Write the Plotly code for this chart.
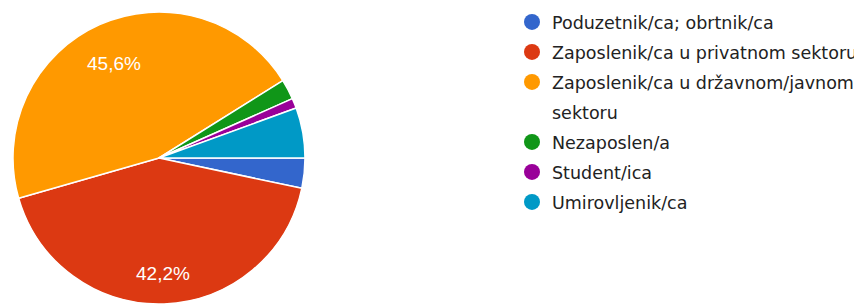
import math
import plotly.graph_objects as go

categories = [
    "Poduzetnik/ca; obrtnik/ca",
    "Zaposlenik/ca u privatnom sektoru",
    "Zaposlenik/ca u državnom/javnom<br>sektoru",
    "Nezaposlen/a",
    "Student/ica",
    "Umirovljenik/ca",
]
counts = [3, 38, 41, 2, 1, 5]
colors = ["#3366CC", "#DC3912", "#FF9900", "#109618", "#990099", "#0099C6"]

total = sum(counts)

# page body has an 8px margin; the figure is sized to fit the window
OFF = 8
W, H = 862 - OFF, 304 - OFF
cx, cy, r = 159 - OFF, 158 - OFF, 146
start_angle = 90  # clockwise from 12 o'clock

fig = go.Figure()
fig.add_trace(go.Pie(
    labels=categories,
    values=counts,
    sort=False,
    direction="clockwise",
    rotation=start_angle,
    marker=dict(colors=colors, line=dict(color="white", width=1.5)),
    textinfo="none",
    showlegend=False,
    hoverinfo="label+percent",
    domain=dict(x=[(cx - r) / W, (cx + r) / W],
                y=[(H - cy - r) / H, (H - cy + r) / H]),
))

# percentage labels for the large slices, placed at ~3/4 radius
acc = 0.0
for c in counts:
    frac = c / total
    mid = math.radians(start_angle + 360 * (acc + frac / 2))
    acc += frac
    if frac > 0.1:
        px = cx + 0.75 * r * math.sin(mid)
        py = cy - 0.75 * r * math.cos(mid)
        txt = f"{frac * 100:.1f}%".replace(".", ",")
        fig.add_annotation(
            x=px / W, y=1 - py / H, xref="paper", yref="paper",
            text=txt, showarrow=False, xanchor="center", yanchor="middle",
            yshift=-6,
            font=dict(color="white", size=19, family="Arial, Liberation Sans"),
        )

# legend entries (circle markers); continuation lines get their own row
gi = 0
for name, col in zip(categories, colors):
    lines = name.split("<br>")
    for j, line in enumerate(lines):
        fig.add_trace(go.Scatter(
            x=[None], y=[None], mode="markers", name=line,
            legendgroup=f"g{gi}",
            marker=dict(color=col if j == 0 else "rgba(255,255,255,0)",
                        size=16, symbol="circle"),
            showlegend=True, hoverinfo="skip",
        ))
        gi += 1

fig.update_layout(
    width=W, height=H,
    margin=dict(l=0, r=0, t=0, b=0, autoexpand=False),
    paper_bgcolor="white", plot_bgcolor="white",
    xaxis=dict(visible=False), yaxis=dict(visible=False),
    legend=dict(
        x=504 / W, xanchor="left", y=1 - 104 / H, yanchor="middle",
        font=dict(size=17.5, color="#222222", family="DejaVu Sans"),
        tracegroupgap=4.25, valign="middle",
        bgcolor="rgba(0,0,0,0)",
    ),
)

fig.write_html("out.html")
